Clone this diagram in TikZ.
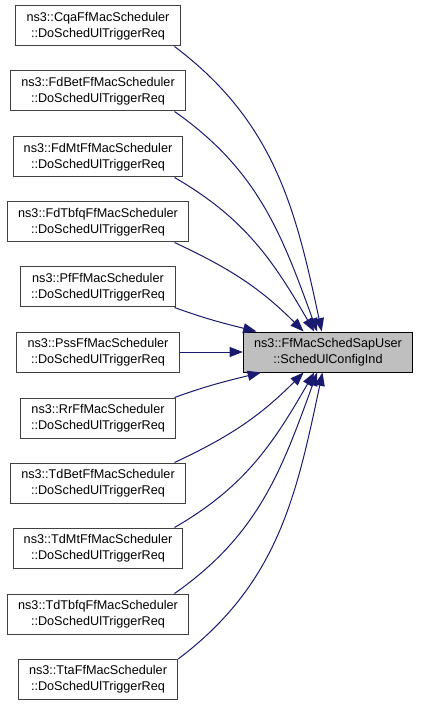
\documentclass[tikz,border=0pt]{standalone}
\usepackage{fontspec}
\setmainfont{Liberation Sans}
\usepackage{tikz}
\usetikzlibrary{arrows.meta}

\definecolor{midnightblue}{RGB}{25,25,112}

\tikzset{
    caller/.style={draw=black!75, line width=0.75pt, fill=white, align=center,
        inner xsep=8pt, inner ysep=0pt, minimum height=30pt,
        font=\fontsize{9.5}{11.6}\selectfont},
    callee/.style={caller, draw=black, fill=black!25},
    call/.style={midnightblue, line width=0.75pt, -{Triangle[length=10pt,width=7.5pt]}}
}

\begin{document}
\begin{tikzpicture}[x=0.75pt, y=0.75pt]
    \useasboundingbox (0,0) rectangle (421,-705);

    % 1. Callers (one column, same centre)
    \node[caller] (cqa)    at (98,-26)  {ns3::CqaFfMacScheduler\\::DoSchedUlTriggerReq};
    \node[caller] (fdbet)  at (98,-91)  {ns3::FdBetFfMacScheduler\\::DoSchedUlTriggerReq};
    \node[caller] (fdmt)   at (98,-157) {ns3::FdMtFfMacScheduler\\::DoSchedUlTriggerReq};
    \node[caller] (fdtbfq) at (98,-222) {ns3::FdTbfqFfMacScheduler\\::DoSchedUlTriggerReq};
    \node[caller] (pf)     at (98,-287) {ns3::PfFfMacScheduler\\::DoSchedUlTriggerReq};
    \node[caller] (pss)    at (98,-352) {ns3::PssFfMacScheduler\\::DoSchedUlTriggerReq};
    \node[caller] (rr)     at (98,-418) {ns3::RrFfMacScheduler\\::DoSchedUlTriggerReq};
    \node[caller] (tdbet)  at (98,-483) {ns3::TdBetFfMacScheduler\\::DoSchedUlTriggerReq};
    \node[caller] (tdmt)   at (98,-548) {ns3::TdMtFfMacScheduler\\::DoSchedUlTriggerReq};
    \node[caller] (tdtbfq) at (98,-614) {ns3::TdTbfqFfMacScheduler\\::DoSchedUlTriggerReq};
    \node[caller] (tta)    at (98,-679) {ns3::TtaFfMacScheduler\\::DoSchedUlTriggerReq};

    % 2. Called function
    \node[callee] (sapuser) at (328,-352) {ns3::FfMacSchedSapUser\\::SchedUlConfigInd};

    % 3. Calls (upper half bend down, lower half bend up)
    \draw[call] (cqa.-15)     to[out=-37, in=102] (sapuser.107);
    \draw[call] (fdbet.-15)   to[out=-35, in=110] (sapuser.118);
    \draw[call] (fdmt.-15)    to[out=-30, in=120] (sapuser.124);
    \draw[call] (fdtbfq.-15)  to[out=-25, in=135] (sapuser.140);
    \draw[call] (pf.-15.5)    to[out=-20, in=166] (sapuser.164);
    \draw[call] (pss.east) -- (sapuser.west);
    \draw[call] (rr.15.5)     to[out=20, in=194]  (sapuser.197);
    \draw[call] (tdbet.15)    to[out=25, in=225]  (sapuser.220);
    \draw[call] (tdmt.15)     to[out=30, in=240]  (sapuser.236);
    \draw[call] (tdtbfq.15)   to[out=35, in=250]  (sapuser.242);
    \draw[call] (tta.14)      to[out=37, in=258]  (sapuser.255);
\end{tikzpicture}
\end{document}
